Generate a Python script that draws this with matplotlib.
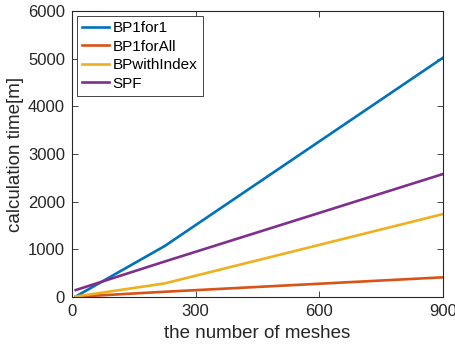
import matplotlib
matplotlib.use("Agg")
import matplotlib.pyplot as plt

plt.rcParams['font.family'] = ['Liberation Sans', 'DejaVu Sans']

meshes = [9, 225, 900]
bp1for1 = [10, 1070, 5020]
bp1forall = [5, 110, 413]
bpwithindex = [10, 285, 1740]
spf = [145, 745, 2580]
labels = ['BP1for1', 'BP1forAll', 'BPwithIndex', 'SPF']
colors = ['#0072BD', '#D95319', '#EDB120', '#7E2F8E']

fig = plt.figure(figsize=(4.56, 3.52), dpi=100)
ax = fig.add_axes([72/456, 1-297/352, (443-72)/456, (297-11)/352])
for s, lab, c in zip([bp1for1, bp1forall, bpwithindex, spf], labels, colors):
    ax.plot(meshes, s, color=c, lw=1.9, label=lab)

ax.set_xlim(0, 900)
ax.set_ylim(0, 6000)
ax.set_xticks([0, 300, 600, 900])
ax.set_yticks(range(0, 6001, 1000))
edge = '#262626'
ax.tick_params(direction='in', top=True, right=True, length=4, width=0.6,
               colors=edge, labelsize=12, pad=5)
for sp in ax.spines.values():
    sp.set_color(edge)
    sp.set_linewidth(0.8)
ax.set_xlabel('the number of meshes', fontsize=13.5, color=edge, labelpad=4)
ax.set_ylabel('calculation time[m]', fontsize=13.5, color=edge, labelpad=3)
leg = ax.legend(loc='upper left', fontsize=11, handlelength=1.75, handletextpad=0.25,
                borderpad=0.35, labelspacing=0.3, fancybox=False, framealpha=1,
                borderaxespad=0.3)
leg.get_frame().set_edgecolor(edge)
leg.get_frame().set_linewidth(0.6)
fig.savefig('out.png', dpi=100)
